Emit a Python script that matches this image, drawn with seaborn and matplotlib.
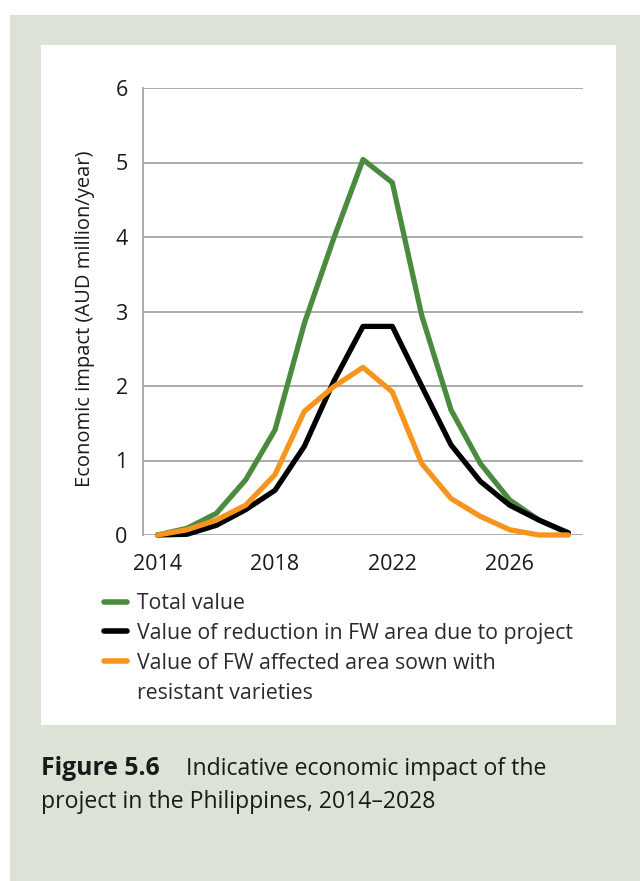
import matplotlib
matplotlib.use("Agg")
import matplotlib.pyplot as plt
from matplotlib.lines import Line2D
from matplotlib.patches import Rectangle
import pandas as pd
import seaborn as sns

years = list(range(2014, 2029))
total_value = [0.0, 0.09, 0.29, 0.74, 1.41, 2.84, 3.98, 5.04, 4.73, 2.95, 1.68, 0.96, 0.47, 0.20, 0.02]
reduction_value = [0.0, 0.01, 0.13, 0.34, 0.60, 1.19, 2.06, 2.80, 2.80, 2.00, 1.21, 0.72, 0.40, 0.20, 0.03]
resistant_value = [0.0, 0.07, 0.20, 0.40, 0.81, 1.66, 1.99, 2.25, 1.92, 0.96, 0.49, 0.25, 0.07, 0.0, 0.0]

series_names = [
    "Total value",
    "Value of reduction in FW area due to project",
    "Value of FW affected area sown with",
]
extra_legend_line = "resistant varieties"
x_ticks = [2014, 2018, 2022, 2026]
y_ticks = [0, 1, 2, 3, 4, 5, 6]
colors = ["#4b8b3f", "#000000", "#f7941d"]

sns.set_theme(style="white")
plt.rcParams["font.family"] = ["Open Sans", "DejaVu Sans"]

df = pd.DataFrame({
    "year": years * 3,
    "value": total_value + reduction_value + resistant_value,
    "series": [series_names[0]] * 15 + [series_names[1]] * 15 + [series_names[2]] * 15,
})

W, H = 640, 881
fig = plt.figure(figsize=(W / 100, H / 100), dpi=100)
fig.patch.set_facecolor("white")

# page background and white chart panel
fig.add_artist(Rectangle((10 / W, 0), 1 - 10 / W, (H - 15) / H, transform=fig.transFigure,
                         facecolor="#dce2d5", edgecolor="none", zorder=-10))
fig.add_artist(Rectangle((41 / W, 1 - 725 / H), (616 - 41) / W, (725 - 45) / H,
                         transform=fig.transFigure, facecolor="white", edgecolor="none", zorder=-9))

ax = fig.add_axes([143 / W, 1 - 535 / H, 440 / W, 447 / H])
ax.set_facecolor("none")

sns.lineplot(data=df, x="year", y="value", hue="series", hue_order=series_names,
             palette=colors, linewidth=3.8, legend=False, ax=ax, clip_on=False, zorder=3)

ax.set_xlim(2013.5, 2028.5)
ax.set_ylim(0, 6)
ax.set_xticks(x_ticks)
ax.set_yticks(y_ticks)
ax.grid(axis="y", color="#a6a6a6", linewidth=1.3)
ax.set_axisbelow(True)
for side in ["top", "right", "bottom"]:
    ax.spines[side].set_visible(False)
ax.spines["left"].set_color("#a6a6a6")
ax.spines["left"].set_linewidth(1.3)
ax.tick_params(axis="both", length=0, labelsize=15.5, colors="#1a1a1a")
ax.tick_params(axis="y", pad=11)
ax.tick_params(axis="x", pad=14)
ax.set_xlabel("")
ax.set_ylabel("Economic impact (AUD million/year)", fontsize=14.5, color="#1a1a1a")
ax.yaxis.set_label_coords(-0.11, 0.483)

handles = [Line2D([0], [0], color=c, linewidth=4, solid_capstyle="round") for c in colors]
handles.append(Line2D([0], [0], color="none"))
fig.legend(handles, series_names + [extra_legend_line], loc="upper left",
           bbox_to_anchor=(104 / W, 1 - 593 / H), frameon=False, fontsize=15.3,
           handlelength=1.1, handletextpad=0.45, labelspacing=0.42,
           borderaxespad=0, borderpad=0, labelcolor="#2a2a2a")

fig.text(41 / W, 1 - 775 / H, "Figure 5.6", fontsize=17.8, fontweight="bold", color="#1a1a1a")
fig.text(186 / W, 1 - 775 / H, "Indicative economic impact of the", fontsize=16.6, color="#1a1a1a")
fig.text(41 / W, 1 - 808 / H, "project in the Philippines, 2014\u20132028", fontsize=16.6, color="#1a1a1a")

fig.savefig("out.png", dpi=100)
